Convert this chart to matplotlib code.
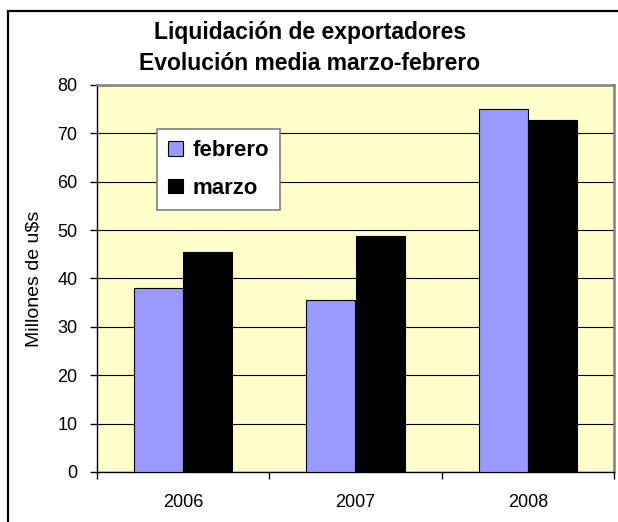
import numpy as np
from matplotlib import pyplot as plt
from matplotlib.patches import Rectangle

years = ['2006', '2007', '2008']
febrero = [38.1, 35.6, 75.1]
marzo = [45.5, 48.7, 72.7]
yticks = [0, 10, 20, 30, 40, 50, 60, 70, 80]

plt.rcParams['font.family'] = ['Liberation Sans', 'DejaVu Sans']

W, H = 618, 522
fig = plt.figure(figsize=(W / 100, H / 100), dpi=100)

# outer chart frame (runs off the right/bottom edge)
fig.patches.append(Rectangle((8 / W, -0.1), 1.0, 1 - 11 / H + 0.1,
                             transform=fig.transFigure, fill=False,
                             edgecolor='black', lw=1.6, zorder=0))

ax = fig.add_axes([97 / W, 1 - 472 / H, (614 - 97) / W, (472 - 85) / H])
ax.set_facecolor('#FFFFCC')

x = np.arange(len(years))
bw = 0.286
ax.bar(x - bw / 2, febrero, bw, color='#9999FF', edgecolor='black',
       lw=0.8, label='febrero', zorder=3)
ax.bar(x + bw / 2, marzo, bw, color='black', edgecolor='black',
       lw=0.8, label='marzo', zorder=3)

ax.set_xlim(-0.5, 2.5)
ax.set_ylim(0, 80)
ax.set_yticks(yticks)
ax.yaxis.grid(True, color='black', lw=0.8, zorder=1)
ax.set_axisbelow(True)

ax.set_xticks(x)
ax.set_xticklabels(years, fontsize=13)
ax.set_xticks([-0.5, 0.5, 1.5, 2.5], minor=True)
ax.tick_params(axis='x', which='major', length=0, pad=16)
ax.tick_params(axis='x', which='minor', length=5, width=1, direction='out')
ax.tick_params(axis='y', labelsize=13, length=5, width=1, direction='out',
               pad=9)

for s in ['top', 'right']:
    ax.spines[s].set_color('#808080')
    ax.spines[s].set_linewidth(1.8)
for s in ['left', 'bottom']:
    ax.spines[s].set_color('black')
    ax.spines[s].set_linewidth(1.0)

ax.set_ylabel('Millones de u$s', fontsize=14, labelpad=11)

leg = ax.legend(loc='upper left', bbox_to_anchor=((157 - 97) / (614 - 97), (472 - 129) / (472 - 85)),
                prop={'weight': 'bold', 'size': 16}, frameon=True, fancybox=False,
                handlelength=0.65, handleheight=0.65, handletextpad=0.45,
                labelspacing=0.75, borderpad=0.5, borderaxespad=0)
leg.get_frame().set_edgecolor('#808080')
leg.get_frame().set_linewidth(1.2)
leg.get_frame().set_facecolor('white')
leg.get_frame().set_alpha(1)

fig.text(310 / W, 1 - 33 / H, 'Liquidación de exportadores', ha='center',
         va='center', fontsize=16.5, fontweight='bold')
fig.text(310 / W, 1 - 63 / H, 'Evolución media marzo-febrero', ha='center',
         va='center', fontsize=16.5, fontweight='bold')

fig.savefig('out.png', dpi=100)
